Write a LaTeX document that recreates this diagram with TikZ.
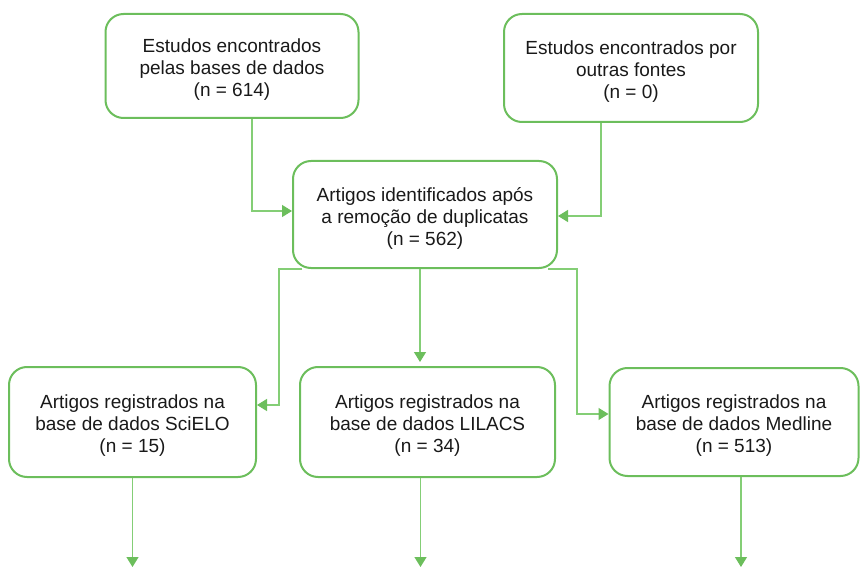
\documentclass[tikz,border=0pt]{standalone}
\usepackage{fontspec}
\setmainfont{Liberation Sans}
\usetikzlibrary{arrows.meta}
\definecolor{boxgreen}{RGB}{108,190,92}
\definecolor{linegreen}{RGB}{132,206,118}
\definecolor{txt}{RGB}{25,25,25}
\tikzset{
  box/.style={draw=boxgreen, line width=2pt, rounded corners=18pt, inner sep=0pt},
  boxtext/.style={align=center, text=txt, font=\fontsize{19}{22}\selectfont,
    inner sep=0pt, yshift=-3.5pt},
  conn/.style={draw=linegreen, line width=1.3pt,
    -{Triangle[width=12pt,length=10pt,fill=boxgreen,color=boxgreen]}},
}
\begin{document}
\begin{tikzpicture}[x=1pt,y=-1pt]
\useasboundingbox (0,0) rectangle (860,567);
\node[box, minimum width=253pt, minimum height=104pt,
  label={[boxtext]center:Estudos encontrados\\pelas bases de dados\\(n = 614)}] (b1) at (232,66) {};
\node[box, minimum width=254pt, minimum height=108pt,
  label={[boxtext]center:Estudos encontrados por\\outras fontes\\(n = 0)}] (b2) at (631,68) {};
\node[box, minimum width=264pt, minimum height=107pt,
  label={[boxtext]center:Artigos identificados após\\a remoção de duplicatas\\(n = 562)}] (b3) at (425,214.5) {};
\node[box, minimum width=247pt, minimum height=110pt,
  label={[boxtext]center:Artigos registrados na\\base de dados SciELO\\(n = 15)}] (b4) at (132.5,422) {};
\node[box, minimum width=255pt, minimum height=110pt,
  label={[boxtext]center:Artigos registrados na\\base de dados LILACS\\(n = 34)}] (b5) at (427.5,422) {};
\node[box, minimum width=249pt, minimum height=108pt,
  label={[boxtext]center:Artigos registrados na\\base de dados Medline\\(n = 513)}] (b6) at (734,422) {};
\coordinate (bot) at (0,567);
\draw[conn] ([xshift=20pt]b1.south) |- ([yshift=3.5pt]b3.west);
\draw[conn] ([xshift=-30pt]b2.south) |- ([yshift=-1.5pt]b3.east);
\draw[conn] ([xshift=10pt]b3.south west) -- ++(-23,0) |- ([yshift=17pt]b4.east);
\draw[conn] ([xshift=-10pt]b3.south east) -- ++(29,0) |- ([yshift=8pt]b6.west);
\draw[conn, shorten >=4pt] ([xshift=-5pt]b3.south) -- ([xshift=-5pt]b3.south |- b5.north);
\draw[conn] (b4.south) -- (b4.south |- bot);
\draw[conn] ([xshift=-7pt]b5.south) -- ([xshift=-7pt]b5.south |- bot);
\draw[conn] ([xshift=7pt]b6.south) -- ([xshift=7pt]b6.south |- bot);
\end{tikzpicture}
\end{document}
